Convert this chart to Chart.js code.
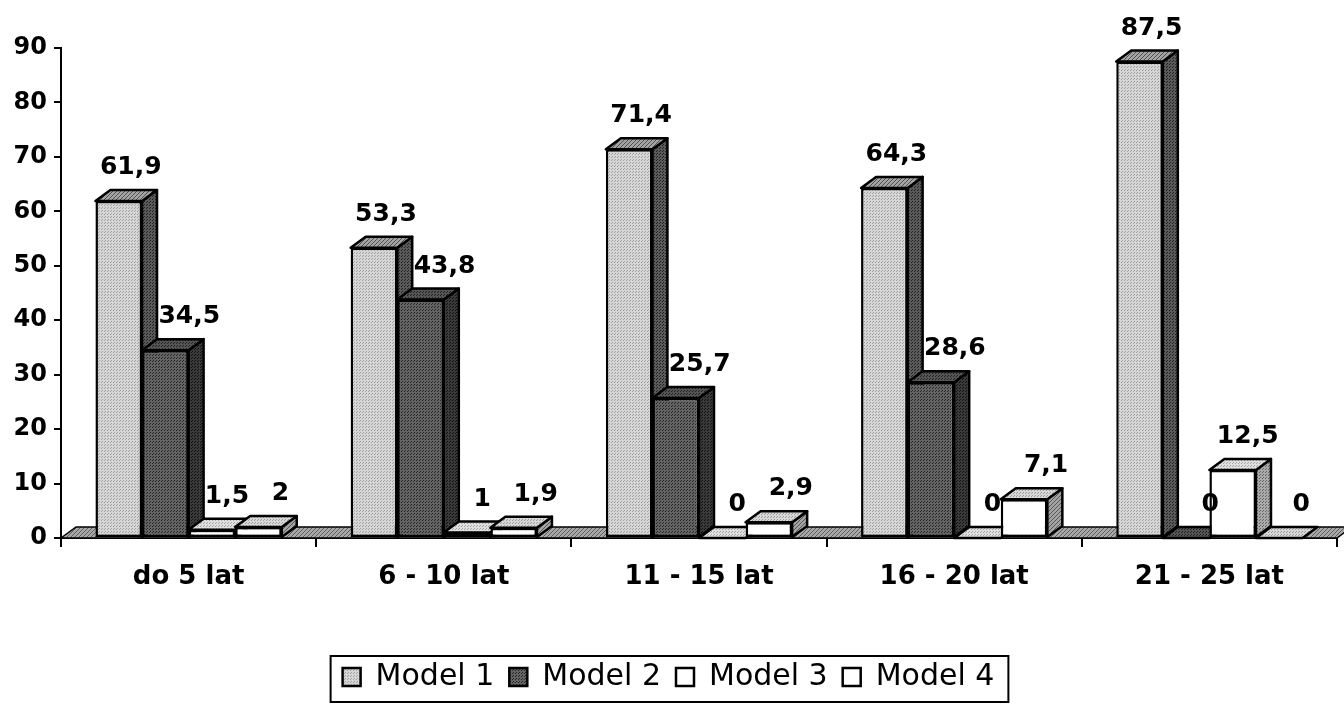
<!DOCTYPE html>
<html>
<head>
<meta charset="utf-8">
<script src="https://cdn.jsdelivr.net/npm/chart.js@4.4.1/dist/chart.umd.min.js"></script>
<style>
  html, body { margin: 0; padding: 0; background: #fff; }
  #wrap { width: 1344px; height: 707px; }
</style>
</head>
<body>
<div id="wrap"><canvas id="barChartCanvas"></canvas></div>
<script>
const categories = ['do 5 lat', '6 - 10 lat', '11 - 15 lat', '16 - 20 lat', '21 - 25 lat'];
const seriesNames = ['Model 1', 'Model 2', 'Model 3', 'Model 4'];
const model1 = [61.9, 53.3, 71.4, 64.3, 87.5];
const model2 = [34.5, 43.8, 25.7, 28.6, 0];
const model3 = [1.5, 1, 0, 0, 12.5];
const model4 = [2, 1.9, 2.9, 7.1, 0];
const yTicks = [0, 10, 20, 30, 40, 50, 60, 70, 80, 90];

const DX = 15, DY = 11; // depth of the 3D look

const canvas = document.getElementById('barChartCanvas');
const mainCtx = canvas.getContext('2d');

// small stipple / hatch patterns like the old printed chart
function dots(base, dot) {
  const c = document.createElement('canvas');
  c.width = c.height = 3;
  const g = c.getContext('2d');
  g.fillStyle = base; g.fillRect(0, 0, 3, 3);
  g.fillStyle = dot; g.fillRect(0, 0, 1, 1); g.fillRect(2, 1, 1, 1);
  return mainCtx.createPattern(c, 'repeat');
}
function hatch(base, line) {
  const c = document.createElement('canvas');
  c.width = c.height = 4;
  const g = c.getContext('2d');
  g.fillStyle = base; g.fillRect(0, 0, 4, 4);
  g.fillStyle = line;
  for (let i = 0; i < 4; i++) g.fillRect(i, 3 - i, 1, 1);
  return mainCtx.createPattern(c, 'repeat');
}

const faces = [
  { front: dots('#d6d6d6', '#a0a0a0'), side: dots('#5a5a5a', '#222222'), top: hatch('#a4a4a4', '#505050') },
  { front: dots('#646464', '#262626'), side: dots('#3a3a3a', '#101010'), top: dots('#555555', '#202020') },
  { front: '#ffffff', side: dots('#aaaaaa', '#666666'), top: dots('#e0e0e0', '#a4a4a4') },
  { front: '#ffffff', side: hatch('#a4a4a4', '#555555'), top: dots('#d8d8d8', '#9a9a9a') }
];
const labelShift = [12, 24, 15, 22]; // x shift of the value labels per series
const floorFill = hatch('#a8a8a8', '#5c5c5c');

function fmt(v) {
  return String(v).replace('.', ',');
}

function poly(ctx, pts, fill) {
  ctx.beginPath();
  ctx.moveTo(pts[0][0], pts[0][1]);
  for (let k = 1; k < pts.length; k++) ctx.lineTo(pts[k][0], pts[k][1]);
  ctx.closePath();
  ctx.fillStyle = fill;
  ctx.fill();
  ctx.stroke();
}

const bars3d = {
  id: 'bars3d',
  beforeDatasetsDraw(chart) {
    const ctx = chart.ctx;
    const { left, right, bottom } = chart.chartArea;
    ctx.save();
    ctx.strokeStyle = '#000';
    ctx.lineWidth = 1.5;
    poly(ctx, [[left, bottom], [left + DX, bottom - DY], [right + DX, bottom - DY], [right, bottom]], floorFill);
    ctx.restore();
  },
  // bars are drawn below, category by category, so the faces overlap correctly
  beforeDatasetDraw() {
    return false;
  },
  afterDatasetsDraw(chart) {
    const ctx = chart.ctx;
    ctx.save();
    ctx.lineJoin = 'round';
    for (let i = 0; i < categories.length; i++) {
      chart.data.datasets.forEach((ds, d) => {
        const bar = chart.getDatasetMeta(d).data[i];
        const { x, y, base, width } = bar.getProps(['x', 'y', 'base', 'width'], true);
        const l = x - width / 2, r = x + width / 2;
        ctx.strokeStyle = '#000';
        ctx.lineWidth = 2.5;
        if (base - y > 0.5) {
          bar.draw(ctx);
          ctx.strokeStyle = '#000';
          ctx.lineWidth = 2.5;
          poly(ctx, [[r, y], [r + DX, y - DY], [r + DX, base - DY], [r, base]], faces[d].side);
        }
        poly(ctx, [[l, y], [l + DX, y - DY], [r + DX, y - DY], [r, y]], faces[d].top);
      });
    }
    // value labels
    ctx.fillStyle = '#000';
    ctx.font = 'bold 25px "DejaVu Sans"';
    ctx.textAlign = 'center';
    ctx.textBaseline = 'alphabetic';
    chart.data.datasets.forEach((ds, d) => {
      chart.getDatasetMeta(d).data.forEach((bar, i) => {
        ctx.fillText(fmt(ds.data[i]), bar.x + labelShift[d], bar.y - DY - 16);
      });
    });
    ctx.restore();
  },
  afterDraw(chart) {
    const hb = chart.legend.legendHitBoxes;
    if (!hb || !hb.length) return;
    const last = hb[hb.length - 1];
    const ctx = chart.ctx;
    ctx.save();
    ctx.strokeStyle = '#000';
    ctx.lineWidth = 2;
    const left = hb[0].left - 12;
    const right = last.left + last.width + 14;
    const top = hb[0].top - 6;
    const bottom = hb[0].top + hb[0].height + 10;
    ctx.strokeRect(left, top, right - left, bottom - top);
    ctx.restore();
  }
};

const seriesValues = [model1, model2, model3, model4];
const datasets = seriesNames.map((name, d) => ({
  label: name,
  data: seriesValues[d],
  backgroundColor: faces[d].front,
  borderColor: '#000',
  borderWidth: 2.5,
  borderSkipped: false,
  categoryPercentage: 0.73,
  barPercentage: 1
}));

new Chart(mainCtx, {
  type: 'bar',
  data: { labels: categories, datasets: datasets },
  options: {
    responsive: true,
    maintainAspectRatio: false,
    animation: false,
    devicePixelRatio: 1,
    layout: { padding: { top: 48, right: 7, bottom: 5, left: 0 } },
    plugins: {
      tooltip: { enabled: false },
      legend: {
        position: 'bottom',
        labels: {
          color: '#000',
          font: { family: '"DejaVu Sans"', size: 30 },
          boxWidth: 18,
          boxHeight: 18,
          padding: 15
        }
      }
    },
    scales: {
      x: {
        afterFit: s => {
          const lh = s.chart.legend ? s.chart.legend.height : 0;
          s.height = s.chart.height - 538 - lh - 5;
        },
        ticks: { color: '#000', font: { family: '"DejaVu Sans"', weight: 'bold', size: 26 }, padding: 15 },
        grid: { drawOnChartArea: false, drawTicks: true, tickLength: 9, color: '#000', lineWidth: 2, offset: true },
        border: { display: true, color: '#000', width: 2 }
      },
      y: {
        min: 0,
        max: 90,
        afterBuildTicks: s => { s.ticks = yTicks.map(v => ({ value: v })); },
        afterFit: s => { s.width = 61; },
        ticks: { color: '#000', font: { family: '"DejaVu Sans"', weight: 'bold', size: 24 }, padding: 7 },
        grid: { drawOnChartArea: false, drawTicks: true, tickLength: 7, color: '#000', lineWidth: 2 },
        border: { display: true, color: '#000', width: 2 }
      }
    }
  },
  plugins: [bars3d]
});
</script>
</body>
</html>
